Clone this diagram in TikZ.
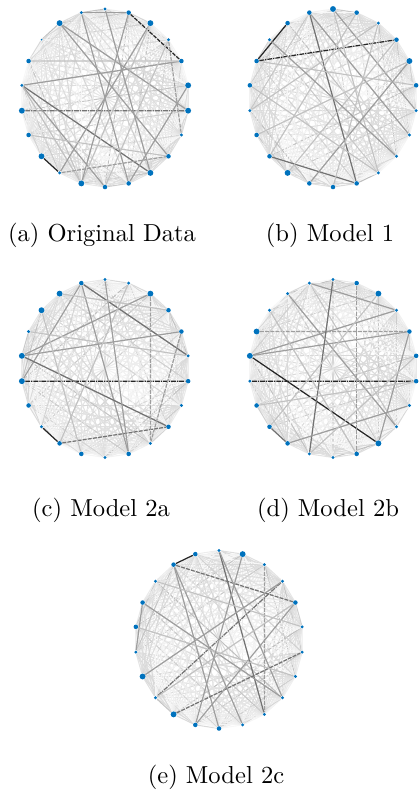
\documentclass[tikz,border=0pt]{standalone}
\pgfdeclarelayer{edges}
\pgfsetlayers{edges,main}
\definecolor{mblue}{RGB}{0,114,189}
\tikzset{
  dot/.style={circle,fill=mblue,draw=none,inner sep=0pt},
  dotb/.style={dot,minimum size=2.4pt},
  dotm/.style={dot,minimum size=1.85pt},
  dots/.style={dot,minimum size=1.35pt},
  dott/.style={dot,minimum size=0.8pt},
  haze/.style={line width=0.42pt},
  l1/.style={line width=0.45pt,black!24},
  l2/.style={line width=0.48pt,black!38},
  l3/.style={line width=0.5pt,black!55},
  l4/.style={line width=0.5pt,black!85},
  d2/.style={l2,dash pattern=on 1.6pt off 0.5pt},
  d3/.style={l3,dash pattern=on 1.6pt off 0.5pt},
  d4/.style={l4,dash pattern=on 1.6pt off 0.5pt},
  t3/.style={l3,dash pattern=on 2pt off 0.4pt on 0.5pt off 0.4pt},
  t4/.style={l4,dash pattern=on 2pt off 0.4pt on 0.5pt off 0.4pt},
  captext/.style={anchor=base,inner sep=0pt}
}
\newcommand{\drawgraph}[6]{%
  \foreach \k/\sz in {#4}{%
    \node[dot\sz] (#1\k) at ({#2+84*cos(90-360/22*\k)},{#3-89*sin(90-360/22*\k)}) {};
  }
  \begin{pgfonlayer}{edges}
    \foreach \i in {0,...,20}{%
      \pgfmathtruncatemacro\jstart{\i+1}
      \foreach \j in {\jstart,...,21}{%
        \pgfmathtruncatemacro\shd{3+mod(\i*37+\j*53+#6,13)+10*(mod(\i*11+\j*29+#6,9)==0)}
        \draw[haze,black!\shd] (#1\i) -- (#1\j);
      }
    }
    \foreach \i/\j/\st in {#5}{\draw[\st] (#1\i) -- (#1\j);}
  \end{pgfonlayer}
}
\begin{document}
\begin{tikzpicture}[x=0.4073pt,y=-0.4073pt]
\useasboundingbox (0,0) rectangle (418,795);
% (a)
\drawgraph{a}{105}{98}
 {0/s,1/m,2/b,3/s,4/m,5/b,6/b,7/s,8/m,9/b,10/m,11/m,12/b,13/s,14/b,15/m,16/b,17/s,18/m,19/t,20/b,21/s}
 {16/6/t3,17/4/l2,17/9/l3,17/11/l2,17/12/l1,14/13/l4,21/10/l2,1/4/d4,20/6/l2,2/13/l2,3/7/d2,18/4/l1,12/2/l1,15/8/l1,10/5/l2,11/3/l1,0/9/l2,21/1/l2,13/8/d2,20/8/l2,1/12/l2}
 {3}
% (b)
\drawgraph{b}{333}{98}
 {0/b,1/m,2/s,3/m,4/b,5/m,6/s,7/s,8/s,9/s,10/m,11/m,12/m,13/b,14/m,15/m,16/s,17/m,18/m,19/s,20/m,21/m}
 {18/3/t4,21/10/l3,20/18/l4,14/10/l3,21/7/l2,0/6/l2,0/9/l1,18/5/l1,4/12/l2,17/9/l1,15/4/l1,13/3/l1,16/2/l1,1/14/l1,2/11/l1,19/8/l2}
 {7}
% (c)
\drawgraph{c}{105}{368.5}
 {0/s,1/s,2/b,3/m,4/m,5/s,6/m,7/s,8/m,9/s,10/m,11/s,12/m,13/m,14/s,15/m,16/b,17/b,18/s,19/b,20/b,21/m}
 {16/6/t4,21/5/l3,21/10/l2,21/16/l2,17/8/l3,17/4/l2,17/2/l2,14/13/l4,13/8/d3,4/9/d2,2/9/d2,0/10/l2,19/12/l1,20/3/l1,18/5/l1,1/13/l1}
 {11}
% (d)
\drawgraph{d}{333}{368.5}
 {0/s,1/m,2/b,3/s,4/m,5/m,6/m,7/s,8/s,9/b,10/m,11/s,12/s,13/m,14/m,15/m,16/s,17/b,18/b,19/s,20/s,21/s}
 {16/6/t4,17/9/l4,17/4/l2,17/3/l2,18/4/d2,21/3/l2,0/12/l3,1/10/d2,20/8/l2,9/4/l2,14/13/l3,15/6/l1,2/14/l1,19/10/l1,13/7/l2,12/5/l1}
 {5}
% (e)
\drawgraph{e}{219}{639.5}
 {0/s,1/b,2/s,3/s,4/m,5/s,6/s,7/s,8/s,9/s,10/s,11/m,12/m,13/b,14/s,15/b,16/s,17/m,18/m,19/s,20/m,21/m}
 {21/20/l4,20/4/d3,20/11/l2,20/10/l2,0/9/l3,0/8/l2,2/9/d2,3/14/t3,18/8/l2,13/6/d3,12/4/l2,14/4/l1,18/16/l2,17/7/l1,1/12/l2,19/5/l1,15/3/l2}
 {9}
% captions
\node[captext] (capa) at (102,241) {(a) Original Data};
\node[captext] (capb) at (330,241) {(b) Model 1};
\node[captext] (capc) at (101,516) {(c) Model 2a};
\node[captext] (capd) at (328,516) {(d) Model 2b};
\node[captext] (cape) at (216,783) {(e) Model 2c};
\end{tikzpicture}
\end{document}
